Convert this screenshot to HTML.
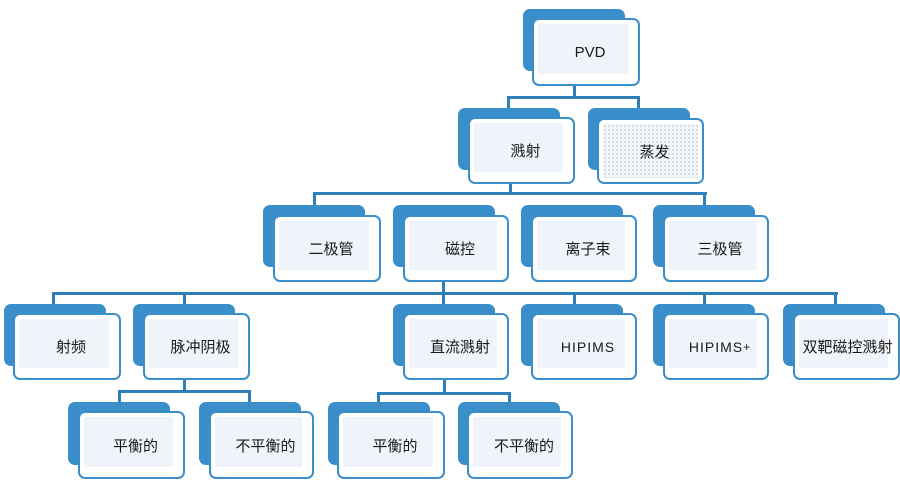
<!DOCTYPE html>
<html><head><meta charset="utf-8"><style>
html,body{margin:0;padding:0;background:#fff;}
body{width:900px;height:486px;position:relative;overflow:hidden;font-family:"Liberation Sans","Noto Sans CJK SC",sans-serif;}
.l{position:absolute;background:#2f7fb8;}
.bk{position:absolute;background:#3a8fca;border-radius:7px;}
.fr{position:absolute;box-sizing:border-box;border:2.5px solid #3a8fca;border-radius:7px;background:#fff;}
.fr .in{position:absolute;left:4px;top:4px;right:10px;bottom:10px;background:#eef4fa;}
.fr .t{position:absolute;left:8px;right:0;top:0;bottom:0;display:flex;align-items:center;justify-content:center;font-size:15px;color:#1a1a1a;}
.dot .in{background-color:#f3f6f8;background-image:radial-gradient(#c8d6df 0.8px,transparent 1px);background-size:4px 4px;right:4px;bottom:4px;}
</style></head><body>
<div class="l" style="left:573px;top:86px;width:3px;height:12px"></div>
<div class="l" style="left:507px;top:96px;width:133px;height:3px"></div>
<div class="l" style="left:507px;top:96px;width:3px;height:13px"></div>
<div class="l" style="left:637px;top:96px;width:3px;height:13px"></div>

<div class="l" style="left:509px;top:183px;width:3px;height:11px"></div>
<div class="l" style="left:313px;top:192px;width:394px;height:3px"></div>
<div class="l" style="left:313px;top:192px;width:3px;height:13px"></div>
<div class="l" style="left:703px;top:192px;width:3px;height:13px"></div>

<div class="l" style="left:442px;top:281px;width:3px;height:13px"></div>
<div class="l" style="left:52px;top:292px;width:786px;height:3px"></div>
<div class="l" style="left:52px;top:292px;width:3px;height:12px"></div>
<div class="l" style="left:183px;top:292px;width:3px;height:12px"></div>
<div class="l" style="left:442px;top:292px;width:3px;height:12px"></div>
<div class="l" style="left:573px;top:292px;width:3px;height:12px"></div>
<div class="l" style="left:703px;top:292px;width:3px;height:12px"></div>
<div class="l" style="left:834px;top:292px;width:3px;height:12px"></div>

<div class="l" style="left:183px;top:380px;width:3px;height:12px"></div>
<div class="l" style="left:118px;top:390px;width:133px;height:3px"></div>
<div class="l" style="left:118px;top:390px;width:3px;height:12px"></div>
<div class="l" style="left:248px;top:390px;width:3px;height:12px"></div>

<div class="l" style="left:443px;top:380px;width:3px;height:14px"></div>
<div class="l" style="left:377px;top:392px;width:134px;height:3px"></div>
<div class="l" style="left:377px;top:392px;width:3px;height:11px"></div>
<div class="l" style="left:508px;top:392px;width:3px;height:11px"></div>

<div class="bk" style="left:523px;top:9px;width:102px;height:62px"></div>
<div class="fr" style="left:532px;top:18px;width:108px;height:68px"><div class="in"></div><div class="t">PVD</div></div>

<div class="bk" style="left:458px;top:108px;width:102px;height:62px"></div>
<div class="fr" style="left:468px;top:117px;width:107px;height:67px"><div class="in"></div><div class="t">溅射</div></div>
<div class="bk" style="left:588px;top:108px;width:102px;height:62px"></div>
<div class="fr dot" style="left:597px;top:118px;width:107px;height:66px"><div class="in"></div><div class="t">蒸发</div></div>

<div class="bk" style="left:263px;top:205px;width:102px;height:62px"></div>
<div class="fr" style="left:273px;top:215px;width:108px;height:67px"><div class="in"></div><div class="t">二极管</div></div>
<div class="bk" style="left:393px;top:205px;width:102px;height:62px"></div>
<div class="fr" style="left:403px;top:215px;width:106px;height:67px"><div class="in"></div><div class="t">磁控</div></div>
<div class="bk" style="left:521px;top:205px;width:102px;height:62px"></div>
<div class="fr" style="left:531px;top:215px;width:106px;height:67px"><div class="in"></div><div class="t">离子束</div></div>
<div class="bk" style="left:653px;top:205px;width:102px;height:62px"></div>
<div class="fr" style="left:663px;top:215px;width:106px;height:67px"><div class="in"></div><div class="t">三极管</div></div>

<div class="bk" style="left:4px;top:304px;width:102px;height:62px"></div>
<div class="fr" style="left:13px;top:313px;width:108px;height:67px"><div class="in"></div><div class="t">射频</div></div>
<div class="bk" style="left:133px;top:304px;width:102px;height:62px"></div>
<div class="fr" style="left:143px;top:313px;width:107px;height:67px"><div class="in"></div><div class="t">脉冲阴极</div></div>
<div class="bk" style="left:393px;top:304px;width:102px;height:62px"></div>
<div class="fr" style="left:403px;top:313px;width:106px;height:67px"><div class="in"></div><div class="t">直流溅射</div></div>
<div class="bk" style="left:521px;top:304px;width:102px;height:62px"></div>
<div class="fr" style="left:531px;top:313px;width:106px;height:67px"><div class="in"></div><div class="t" style="font-size:14px;letter-spacing:1px">HIPIMS</div></div>
<div class="bk" style="left:653px;top:304px;width:102px;height:62px"></div>
<div class="fr" style="left:663px;top:313px;width:106px;height:67px"><div class="in"></div><div class="t" style="font-size:14px;letter-spacing:1px">HIPIMS<sup style="font-size:12px">+</sup></div></div>
<div class="bk" style="left:783px;top:304px;width:102px;height:62px"></div>
<div class="fr" style="left:793px;top:313px;width:107px;height:67px"><div class="in"></div><div class="t" style="left:2px">双靶磁控溅射</div></div>

<div class="bk" style="left:68px;top:402px;width:102px;height:63px"></div>
<div class="fr" style="left:78px;top:411px;width:107px;height:68px"><div class="in"></div><div class="t">平衡的</div></div>
<div class="bk" style="left:199px;top:402px;width:102px;height:63px"></div>
<div class="fr" style="left:209px;top:411px;width:105px;height:68px"><div class="in"></div><div class="t">不平衡的</div></div>
<div class="bk" style="left:328px;top:402px;width:102px;height:63px"></div>
<div class="fr" style="left:337px;top:411px;width:108px;height:68px"><div class="in"></div><div class="t">平衡的</div></div>
<div class="bk" style="left:458px;top:402px;width:102px;height:63px"></div>
<div class="fr" style="left:467px;top:411px;width:106px;height:68px"><div class="in"></div><div class="t">不平衡的</div></div>
</body></html>
